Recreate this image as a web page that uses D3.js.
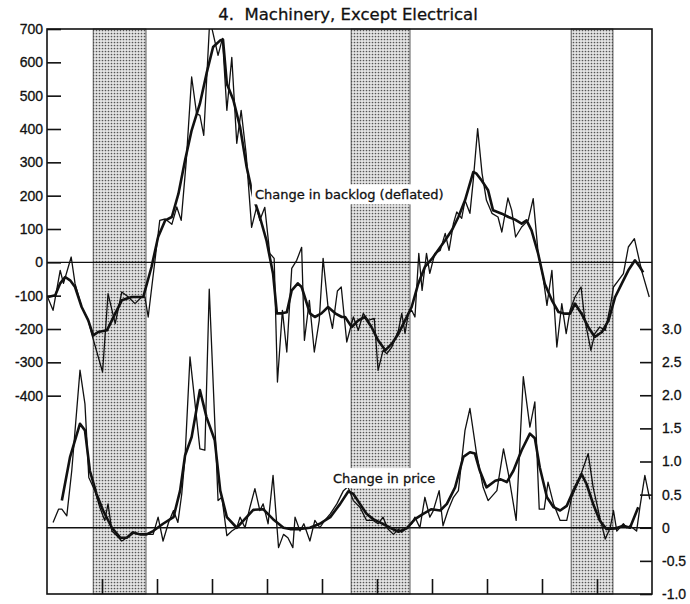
<!DOCTYPE html>
<html>
<head>
<meta charset="utf-8">
<script src="https://cdn.jsdelivr.net/npm/d3@7"></script>
<style>
  body { margin: 0; background: #fff; }
  svg { font-family: "DejaVu Sans", sans-serif; }
  text { fill: #111; stroke: #111; stroke-width: 0.3; }
  .tick text { font-size: 14px; }
  .tick line { stroke: #111; stroke-width: 1.6; }
  .thin { fill: none; stroke: #111; stroke-width: 1.3; stroke-linejoin: round; }
  .thick { fill: none; stroke: #111; stroke-width: 2.6; stroke-linejoin: round; }
</style>
</head>
<body>
<svg id="chart"></svg>
<script>
// years as decimal (1948.0 = Jan 1948)
const recessions = [[1948.84, 1949.80], [1953.53, 1954.60], [1957.53, 1958.29]];
const yearTicks = [1949, 1950, 1951, 1952, 1953, 1954, 1955, 1956, 1957, 1958];
const backlogTicks = [700, 600, 500, 400, 300, 200, 100, 0, -100, -200, -300, -400];
const priceTicks = [3.0, 2.5, 2.0, 1.5, 1.0, 0.5, 0, -0.5, -1.0];

// change in backlog (deflated), monthly
const backlogMonthly = [
  [1948.01, -104], [1948.11, -144], [1948.24, -24], [1948.30, -63], [1948.44, 16],
  [1948.51, -64], [1948.63, -134], [1948.75, -174], [1948.81, -213], [1949.01, -329],
  [1949.11, -94], [1949.24, -184], [1949.36, -89], [1949.48, -104], [1949.60, -124],
  [1949.72, -104], [1949.78, -104], [1949.84, -164], [1950.05, 126], [1950.15, 130],
  [1950.27, 114], [1950.36, 166], [1950.44, 126], [1950.53, 300], [1950.63, 556],
  [1950.72, 446], [1950.78, 441], [1950.85, 381], [1950.96, 730], [1951.11, 621],
  [1951.19, 672], [1951.27, 456], [1951.36, 615], [1951.45, 357], [1951.53, 456],
  [1951.62, 327], [1951.72, 105], [1951.81, 165], [1951.87, 126], [1951.96, 165],
  [1952.05, 27], [1952.13, 12], [1952.19, -359], [1952.28, -144], [1952.36, -269],
  [1952.45, -18], [1952.54, 6], [1952.63, 45], [1952.68, -234], [1952.77, -114],
  [1952.86, -269], [1952.95, -174], [1953.02, 12], [1953.11, -134], [1953.19, -198],
  [1953.28, -86], [1953.35, -74], [1953.45, -239], [1953.57, -164], [1953.66, -204],
  [1953.75, -153], [1953.84, -174], [1953.95, -168], [1954.02, -324], [1954.11, -264],
  [1954.18, -274], [1954.27, -254], [1954.39, -204], [1954.45, -153], [1954.51, -213],
  [1954.57, -153], [1954.63, -144], [1954.69, -164], [1954.76, 27], [1954.82, -84],
  [1954.90, 27], [1954.96, -33], [1955.05, 26], [1955.15, 36], [1955.24, 87],
  [1955.31, 36], [1955.39, 117], [1955.45, 151], [1955.54, 132], [1955.60, 186],
  [1955.69, 147], [1955.75, 246], [1955.83, 401], [1955.91, 267], [1955.99, 186],
  [1956.09, 147], [1956.20, 136], [1956.27, 91], [1956.38, 193], [1956.45, 156],
  [1956.52, 76], [1956.63, 106], [1956.75, 126], [1956.84, 191], [1956.93, 27],
  [1957.02, -44], [1957.09, -129], [1957.18, -24], [1957.27, -254], [1957.36, -124],
  [1957.44, -214], [1957.51, -144], [1957.60, -104], [1957.71, -74], [1957.78, -174],
  [1957.89, -264], [1957.96, -214], [1958.05, -194], [1958.15, -204], [1958.24, -134],
  [1958.30, -74], [1958.39, -54], [1958.48, -34], [1958.57, 46], [1958.68, 71],
  [1958.81, -24], [1958.95, -104]
];

// change in backlog, smoothed
const backlogSmooth = [
  [1948.02, -104], [1948.15, -99], [1948.24, -63], [1948.33, -44], [1948.42, -54],
  [1948.51, -74], [1948.63, -134], [1948.75, -174], [1948.84, -219], [1948.93, -209],
  [1949.09, -204], [1949.24, -154], [1949.36, -114], [1949.54, -104], [1949.75, -104],
  [1949.90, -14], [1950.02, 76], [1950.15, 126], [1950.27, 136], [1950.39, 206],
  [1950.51, 306], [1950.63, 396], [1950.78, 476], [1950.90, 566], [1951.02, 646],
  [1951.15, 666], [1951.20, 668], [1951.27, 536], [1951.39, 486], [1951.51, 406],
  [1951.63, 286], [1951.75, 196], [1951.87, 136], [1951.99, 66], [1952.11, -34],
  [1952.18, -153], [1952.27, -153], [1952.36, -150], [1952.45, -84], [1952.56, -63],
  [1952.63, -74], [1952.78, -153], [1952.87, -164], [1952.99, -153], [1953.11, -134],
  [1953.24, -153], [1953.36, -164], [1953.42, -164], [1953.54, -194], [1953.66, -174],
  [1953.78, -164], [1953.90, -194], [1954.02, -234], [1954.15, -264], [1954.27, -244],
  [1954.39, -214], [1954.51, -174], [1954.63, -134], [1954.75, -64], [1954.87, -14],
  [1955.00, 11], [1955.11, 36], [1955.24, 66], [1955.36, 96], [1955.48, 136],
  [1955.60, 186], [1955.75, 271], [1955.81, 266], [1955.90, 246], [1956.02, 216],
  [1956.11, 156], [1956.27, 146], [1956.39, 136], [1956.51, 128], [1956.63, 116],
  [1956.72, 126], [1956.81, 96], [1956.93, 26], [1957.05, -64], [1957.18, -114],
  [1957.30, -149], [1957.42, -154], [1957.51, -154], [1957.60, -124], [1957.72, -154],
  [1957.84, -194], [1957.96, -224], [1958.09, -209], [1958.21, -174], [1958.33, -104],
  [1958.45, -64], [1958.57, -24], [1958.69, 6], [1958.78, -14], [1958.84, -30]
];

// change in price, monthly
const priceMonthly = [
  [1948.11, 0.08], [1948.21, 0.28], [1948.27, 0.28], [1948.36, 0.18], [1948.45, 0.86],
  [1948.60, 2.38], [1948.69, 1.87], [1948.76, 0.76], [1948.87, 0.56], [1948.96, 0.31],
  [1949.05, 0.11], [1949.11, 0.36], [1949.18, -0.05], [1949.27, -0.12], [1949.36, -0.20],
  [1949.45, -0.15], [1949.54, -0.07], [1949.66, -0.10], [1949.78, -0.10], [1949.93, -0.10],
  [1950.02, 0.16], [1950.11, -0.20], [1950.21, 0.08], [1950.30, 0.26], [1950.38, 0.08],
  [1950.45, 0.51], [1950.51, 1.07], [1950.60, 2.58], [1950.78, 1.19], [1950.87, 1.17],
  [1950.95, 3.60], [1951.11, 0.41], [1951.18, 0.46], [1951.27, -0.12], [1951.36, -0.05],
  [1951.45, 0.00], [1951.51, 0.16], [1951.60, 0.00], [1951.69, 0.31], [1951.78, 0.59],
  [1951.87, 0.26], [1951.93, 0.36], [1952.02, 0.06], [1952.11, 0.79], [1952.21, -0.30],
  [1952.30, -0.10], [1952.38, -0.15], [1952.47, -0.30], [1952.51, 0.16], [1952.60, -0.05],
  [1952.67, 0.06], [1952.78, -0.20], [1952.87, 0.11], [1952.96, 0.00], [1953.05, 0.11],
  [1953.15, 0.21], [1953.27, 0.36], [1953.39, 0.56], [1953.47, 0.62], [1953.57, 0.41],
  [1953.69, 0.31], [1953.81, 0.11], [1953.93, 0.11], [1954.02, 0.06], [1954.11, 0.16],
  [1954.20, -0.02], [1954.30, -0.10], [1954.39, -0.02], [1954.45, -0.07], [1954.54, 0.00],
  [1954.63, 0.06], [1954.69, 0.16], [1954.78, 0.00], [1954.87, 0.46], [1954.96, 0.16],
  [1955.02, 0.25], [1955.13, 0.56], [1955.20, 0.03], [1955.29, 0.26], [1955.39, 0.46],
  [1955.48, 0.56], [1955.60, 1.47], [1955.69, 1.80], [1955.81, 1.12], [1955.93, 0.61],
  [1956.02, 0.41], [1956.18, 0.56], [1956.30, 1.19], [1956.39, 0.81], [1956.53, 0.11],
  [1956.66, 2.28], [1956.78, 1.52], [1956.87, 1.90], [1956.95, 0.28], [1957.04, 0.28],
  [1957.11, 0.69], [1957.21, 0.36], [1957.33, 0.11], [1957.45, 0.11], [1957.54, 0.46],
  [1957.66, 0.69], [1957.84, 1.12], [1957.93, 0.61], [1958.05, 0.16], [1958.15, -0.17],
  [1958.24, 0.00], [1958.30, 0.26], [1958.36, -0.05], [1958.48, 0.06], [1958.54, 0.00],
  [1958.60, 0.03], [1958.72, -0.05], [1958.78, 0.31], [1958.87, 0.79], [1958.96, 0.43]
];

// change in price, smoothed
const priceSmooth = [
  [1948.27, 0.41], [1948.42, 1.07], [1948.60, 1.57], [1948.69, 1.47], [1948.78, 0.86],
  [1948.90, 0.51], [1949.02, 0.26], [1949.18, 0.00], [1949.33, -0.15], [1949.45, -0.15],
  [1949.57, -0.07], [1949.69, -0.10], [1949.81, -0.10], [1949.93, -0.05], [1950.11, 0.06],
  [1950.30, 0.16], [1950.42, 0.56], [1950.51, 1.09], [1950.63, 1.37], [1950.78, 2.08],
  [1950.90, 1.67], [1951.05, 1.32], [1951.15, 0.56], [1951.27, 0.16], [1951.45, 0.00],
  [1951.63, 0.16], [1951.75, 0.27], [1951.93, 0.28], [1952.11, 0.13], [1952.30, 0.00],
  [1952.42, -0.02], [1952.60, -0.02], [1952.78, 0.00], [1952.96, 0.06], [1953.15, 0.16],
  [1953.33, 0.36], [1953.48, 0.55], [1953.57, 0.51], [1953.69, 0.36], [1953.81, 0.21],
  [1953.93, 0.13], [1954.08, 0.07], [1954.24, 0.00], [1954.39, -0.06], [1954.54, -0.01],
  [1954.69, 0.13], [1954.84, 0.21], [1954.99, 0.28], [1955.15, 0.26], [1955.27, 0.36],
  [1955.42, 0.61], [1955.57, 1.07], [1955.69, 1.14], [1955.78, 1.12], [1955.87, 0.86],
  [1955.99, 0.61], [1956.15, 0.71], [1956.25, 0.73], [1956.36, 0.69], [1956.48, 0.86],
  [1956.63, 1.17], [1956.78, 1.42], [1956.87, 1.35], [1956.96, 0.91], [1957.09, 0.46],
  [1957.21, 0.31], [1957.33, 0.26], [1957.45, 0.33], [1957.57, 0.56], [1957.72, 0.81],
  [1957.81, 0.66], [1957.93, 0.36], [1958.05, 0.11], [1958.17, -0.02], [1958.33, -0.01],
  [1958.48, 0.03], [1958.60, 0.00], [1958.75, 0.31]
];

const margin = { top: 29, right: 38, bottom: 10, left: 47 };
const width = 690 - margin.left - margin.right;
const height = 604 - margin.top - margin.bottom;

const svg = d3.select("#chart")
  .attr("width", 690)
  .attr("height", 604);

// dotted screen for the recession bands
const defs = svg.append("defs");
const pat = defs.append("pattern")
  .attr("id", "dots")
  .attr("width", 3)
  .attr("height", 3)
  .attr("patternUnits", "userSpaceOnUse");
pat.append("rect").attr("width", 3).attr("height", 3).attr("fill", "#e4e4e4");
pat.append("circle").attr("cx", 1.5).attr("cy", 1.5).attr("r", 0.85).attr("fill", "#555");

defs.append("clipPath")
  .attr("id", "plotClip")
  .append("rect")
  .attr("width", width)
  .attr("height", height);

const g = svg.append("g")
  .attr("transform", "translate(" + margin.left + "," + margin.top + ")");

const x = d3.scaleLinear()
  .domain([1948, 1959])
  .range([0, width]);

const yB = d3.scaleLinear()
  .domain([-400, 700])
  .range([1100 / 3, 0]);

const yP = d3.scaleLinear()
  .domain([-1, 3])
  .range([height, height - 265]);

// recession shading
g.selectAll(".band")
  .data(recessions)
  .enter()
  .append("rect")
  .attr("class", "band")
  .attr("x", d => x(d[0]))
  .attr("y", 0)
  .attr("width", d => x(d[1]) - x(d[0]))
  .attr("height", height)
  .attr("fill", "url(#dots)")
  .attr("stroke", "#333")
  .attr("stroke-width", 0.8);

// zero lines
g.append("line")
  .attr("x1", 0).attr("x2", width)
  .attr("y1", yB(0)).attr("y2", yB(0))
  .attr("stroke", "#111").attr("stroke-width", 1.1);
g.append("line")
  .attr("x1", 0).attr("x2", width)
  .attr("y1", yP(0)).attr("y2", yP(0))
  .attr("stroke", "#111").attr("stroke-width", 1.3);

const lines = g.append("g").attr("clip-path", "url(#plotClip)");

const lineB = d3.line().x(d => x(d[0])).y(d => yB(d[1]));
const lineP = d3.line().x(d => x(d[0])).y(d => yP(d[1]));

// labels sit on white boxes that break the shading
function label(txt, t, yy) {
  const lbl = g.append("g");
  const tx = lbl.append("text")
    .attr("x", x(t))
    .attr("y", yy)
    .attr("font-size", 13)
    .text(txt);
  const bb = tx.node().getBBox();
  lbl.insert("rect", "text")
    .attr("x", bb.x - 3)
    .attr("y", bb.y - 3)
    .attr("width", bb.width + 6)
    .attr("height", bb.height + 5)
    .attr("fill", "#fff")
    .attr("stroke", "none");
}
label("Change in backlog (deflated)", 1951.78, yB(210) + 7);
label("Change in price", 1953.2, yP(0.75) + 5);

lines.append("path").datum(backlogMonthly).attr("class", "thin").attr("d", lineB);
lines.append("path").datum(backlogSmooth).attr("class", "thick").attr("d", lineB);
lines.append("path").datum(priceMonthly).attr("class", "thin").attr("d", lineP);
lines.append("path").datum(priceSmooth).attr("class", "thick").attr("d", lineP);

// axes
g.append("g")
  .call(d3.axisLeft(yB)
    .tickValues(backlogTicks)
    .tickSize(-14)
    .tickPadding(4)
    .tickFormat(d => String(d)))
  .call(a => a.select(".domain").remove());

g.append("g")
  .attr("transform", "translate(" + width + ",0)")
  .call(d3.axisRight(yP)
    .tickValues(priceTicks)
    .tickSize(-12)
    .tickPadding(10)
    .tickFormat(d => d === 0 ? "0" : d.toFixed(1)))
  .call(a => a.select(".domain").remove());

g.append("g")
  .attr("transform", "translate(0," + height + ")")
  .call(d3.axisBottom(x)
    .tickValues(yearTicks)
    .tickSize(-15)
    .tickFormat(""))
  .call(a => a.select(".domain").remove());

// frame
g.append("rect")
  .attr("width", width)
  .attr("height", height)
  .attr("fill", "none")
  .attr("stroke", "#111")
  .attr("stroke-width", 1.6);

svg.append("text")
  .attr("x", 348)
  .attr("y", 20)
  .attr("text-anchor", "middle")
  .attr("font-size", 16.5)
  .text("4.\u00a0 Machinery, Except Electrical");
</script>
</body>
</html>
